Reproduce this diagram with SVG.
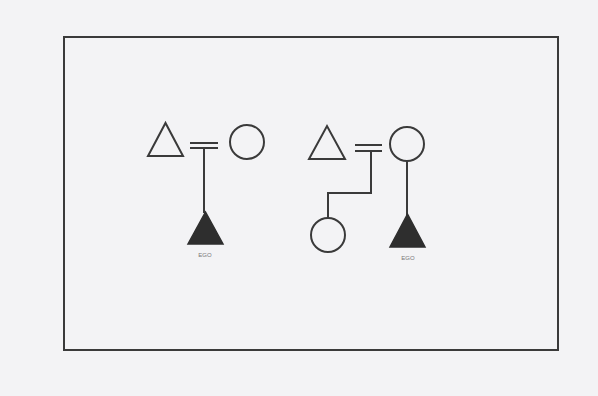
<svg xmlns="http://www.w3.org/2000/svg" width="598" height="396" viewBox="0 0 598 396">
<style>
.s{fill:none;stroke:#3a3a3a;stroke-width:2}
.f{fill:#2e2e2e;stroke:#2e2e2e;stroke-width:1.5}
.l{font-family:"Liberation Sans",Arial,sans-serif;font-size:6px;fill:#777;text-anchor:middle}
</style>
<rect width="598" height="396" fill="#f3f3f5"/>
<rect x="64" y="37" width="494" height="313" class="s" fill="none"/>
<g id="connectors" class="s">
<line x1="190" y1="143" x2="218" y2="143"/>
<line x1="190" y1="148" x2="218" y2="148"/>
<line x1="204" y1="148" x2="204" y2="213"/>
<line x1="355" y1="145" x2="382" y2="145"/>
<line x1="355" y1="151" x2="382" y2="151"/>
<polyline points="371,151 371,193 328,193 328,218"/>
<line x1="407" y1="161" x2="407" y2="215"/>
</g>
<g id="m1"><polygon class="s" points="148,156 183,156 165.5,123"/></g>
<g id="f1"><circle class="s" cx="247" cy="142" r="17"/></g>
<g id="ego1"><polygon class="f" points="188,244 223,244 205.5,212"/><text class="l" x="205" y="257">EGO</text></g>
<g id="m2"><polygon class="s" points="309,159 345,159 327,126"/></g>
<g id="f2"><circle class="s" cx="407" cy="144" r="17"/></g>
<g id="f3"><circle class="s" cx="328" cy="235" r="17"/></g>
<g id="ego2"><polygon class="f" points="390,247 425,247 407.5,214"/><text class="l" x="408" y="260">EGO</text></g>
</svg>
